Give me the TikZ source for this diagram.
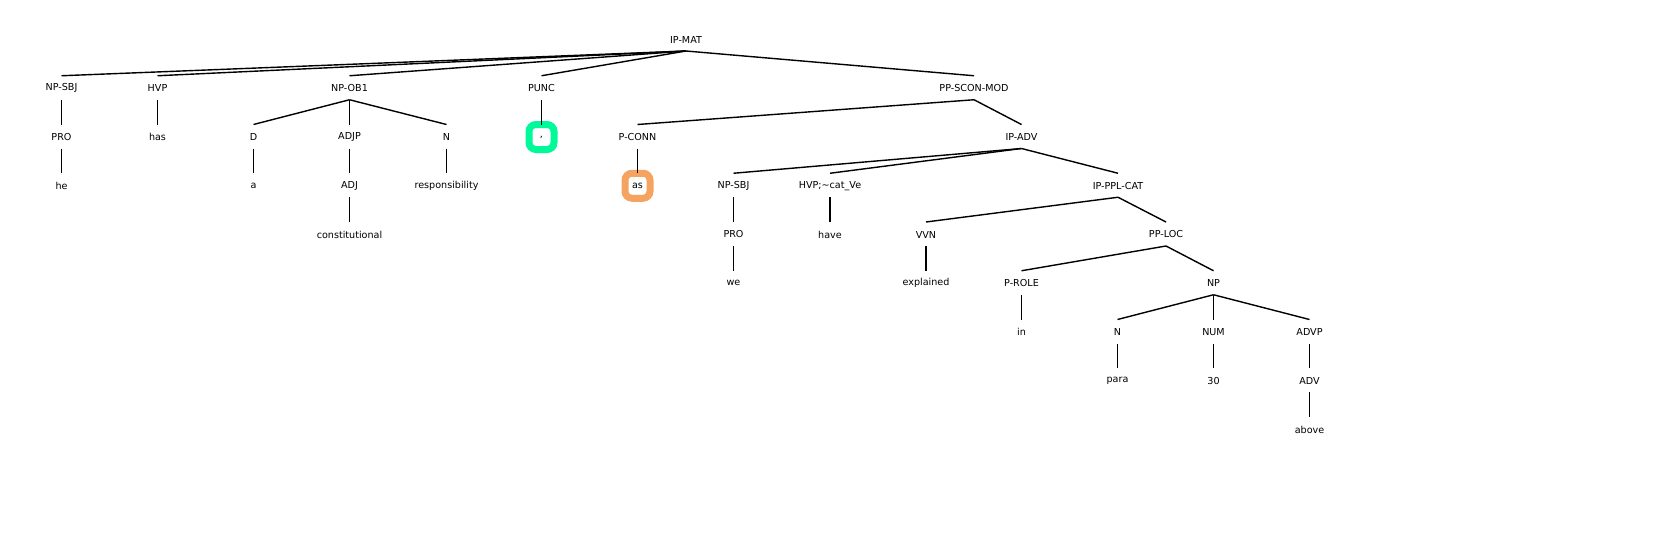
\documentclass[tikz,border=0pt]{standalone}
\usepackage{fontspec}
\setmainfont{DejaVu Sans}
\definecolor{hlgreen}{HTML}{00FA9A}
\definecolor{hlorange}{HTML}{F4A460}
\newcommand\treeedge[2]{\draw[branch] ([yshift=-11.5pt]#1.center) -- ([yshift=12.5pt]#2.center);}
\begin{document}
\begin{tikzpicture}[x=1pt,y=-1pt,
  lbl/.style={inner sep=0pt, font=\fontsize{9.6}{11}\selectfont},
  hl/.style={draw=#1, line width=7pt, fill=white, rounded corners=7pt, minimum size=25pt, inner sep=0pt, font=\fontsize{9.6}{11}\selectfont},
  branch/.style={line width=1.4pt, black}]
\useasboundingbox (0,0) rectangle (1680,549);
\def\La{39.5}\def\Lb{88.25}\def\Lc{137}\def\Ld{185.75}\def\Le{234.5}\def\Lf{283.25}\def\Lg{332}\def\Lh{380.75}\def\Li{429.5}
% level 0
\node[lbl] (ipmat) at (686,\La) {IP-MAT};
% level 1
\node[lbl] (npsbj) at (61.5,\Lb) {NP-SBJ};
\node[lbl] (hvp) at (157.5,\Lb) {HVP};
\node[lbl] (npob) at (349.5,\Lb) {NP-OB1};
\node[lbl] (punc) at (541.5,\Lb) {PUNC};
\node[lbl] (ppscon) at (974,\Lb) {PP-SCON-MOD};
% level 2
\node[lbl] (pro) at (61.5,\Lc) {PRO};
\node[lbl] (has) at (157.5,\Lc) {has};
\node[lbl] (d) at (253.5,\Lc) {D};
\node[lbl] (adjp) at (349.5,\Lc) {ADJP};
\node[lbl] (n) at (446.5,\Lc) {N};
\node[hl=hlgreen] (comma) at (541.5,\Lc) {,};
\node[lbl] (pconn) at (637.5,\Lc) {P-CONN};
\node[lbl] (ipadv) at (1021.5,\Lc) {IP-ADV};
% level 3
\node[lbl] (he) at (61.5,\Ld) {he};
\node[lbl] (a) at (253.5,\Ld) {a};
\node[lbl] (adj) at (349.5,\Ld) {ADJ};
\node[lbl] (resp) at (446.5,\Ld) {responsibility};
\node[hl=hlorange] (as) at (637.5,\Ld) {as};
\node[lbl] (npsbjb) at (733.5,\Ld) {NP-SBJ};
\node[lbl] (hvpb) at (830,\Ld) {HVP;\textasciitilde cat\_Ve};
\node[lbl] (ipppl) at (1118,\Ld) {IP-PPL-CAT};
% level 4
\node[lbl] (const) at (349.5,\Le) {constitutional};
\node[lbl] (prob) at (733.5,\Le) {PRO};
\node[lbl] (have) at (830,\Le) {have};
\node[lbl] (vvn) at (926,\Le) {VVN};
\node[lbl] (pploc) at (1166,\Le) {PP-LOC};
% level 5
\node[lbl] (we) at (733.5,\Lf) {we};
\node[lbl] (expl) at (926,\Lf) {explained};
\node[lbl] (prole) at (1021.5,\Lf) {P-ROLE};
\node[lbl] (np) at (1213.5,\Lf) {NP};
% level 6
\node[lbl] (in) at (1021.5,\Lg) {in};
\node[lbl] (nb) at (1117.5,\Lg) {N};
\node[lbl] (num) at (1213.5,\Lg) {NUM};
\node[lbl] (advp) at (1309.5,\Lg) {ADVP};
% level 7
\node[lbl] (para) at (1117.5,\Lh) {para};
\node[lbl] (thirty) at (1213.5,\Lh) {30};
\node[lbl] (adv) at (1309.5,\Lh) {ADV};
% level 8
\node[lbl] (above) at (1309.5,\Li) {above};
% edges
\treeedge{ipmat}{npsbj}
\treeedge{ipmat}{hvp}
\treeedge{ipmat}{npob}
\treeedge{ipmat}{punc}
\treeedge{ipmat}{ppscon}
\treeedge{npsbj}{pro}
\treeedge{pro}{he}
\treeedge{hvp}{has}
\treeedge{npob}{d}
\treeedge{npob}{adjp}
\treeedge{npob}{n}
\treeedge{d}{a}
\treeedge{adjp}{adj}
\treeedge{adj}{const}
\treeedge{n}{resp}
\treeedge{punc}{comma}
\treeedge{ppscon}{pconn}
\treeedge{ppscon}{ipadv}
\treeedge{pconn}{as}
\treeedge{ipadv}{npsbjb}
\treeedge{ipadv}{hvpb}
\treeedge{ipadv}{ipppl}
\treeedge{npsbjb}{prob}
\treeedge{prob}{we}
\treeedge{hvpb}{have}
\treeedge{ipppl}{vvn}
\treeedge{ipppl}{pploc}
\treeedge{vvn}{expl}
\treeedge{pploc}{prole}
\treeedge{pploc}{np}
\treeedge{prole}{in}
\treeedge{np}{nb}
\treeedge{np}{num}
\treeedge{np}{advp}
\treeedge{nb}{para}
\treeedge{num}{thirty}
\treeedge{advp}{adv}
\treeedge{adv}{above}
\end{tikzpicture}
\end{document}
